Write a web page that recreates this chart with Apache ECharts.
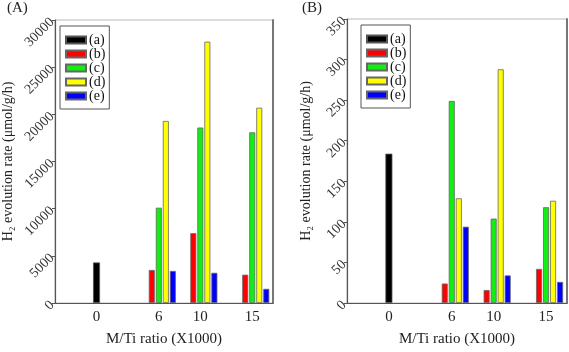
<!DOCTYPE html>
<html>
<head>
<meta charset="utf-8">
<script src="https://cdn.jsdelivr.net/npm/echarts@6/dist/echarts.min.js"></script>
<style>
html, body { margin: 0; padding: 0; background: #fff; }
#main { width: 569px; height: 352px; }
</style>
</head>
<body>
<div id="main"></div>
<script>
// M/Ti ratio (X1000)
const ratios = [0, 6, 10, 15];

// panel (A), umol/g/h
const aA = [4300, null, null, null];
const bA = [null, 3500, 7400, 3000];
const cA = [null, 10100, 18600, 18100];
const dA = [null, 19300, 27700, 20700];
const eA = [null, 3400, 3200, 1500];

// panel (B)
const aB = [184, null, null, null];
const bB = [null, 24, 16, 42];
const cB = [null, 249, 104, 118];
const dB = [null, 129, 288, 126];
const eB = [null, 94, 34, 26];

const names = ['(a)', '(b)', '(c)', '(d)', '(e)'];
const colors = ['#000000', '#ff0000', '#11ee11', '#ffff00', '#0000ff'];

const serif = 'Liberation Serif';

const toPairs = arr => ratios.map((r, i) => [r, arr[i]]);

function panelSeries(p, arrs) {
  const xMain = p * 2, xSolo = p * 2 + 1, yIdx = p * 2;
  const list = [];
  // (a) sits alone at 0, so it goes on its own hidden x axis
  list.push({
    name: names[0], type: 'bar', xAxisIndex: xSolo, yAxisIndex: yIdx,
    barWidth: 7, data: toPairs(arrs[0]),
    itemStyle: { color: colors[0], borderColor: '#555', borderWidth: 0.8 }
  });
  // empty slot where (a) would be in the groups
  list.push({ name: '', type: 'bar', xAxisIndex: xMain, yAxisIndex: yIdx, barWidth: 6, barGap: '17%', data: [] });
  for (let i = 1; i < 5; i++) {
    list.push({
      name: names[i], type: 'bar', xAxisIndex: xMain, yAxisIndex: yIdx,
      barWidth: 6, barGap: '17%', data: toPairs(arrs[i]),
      itemStyle: { color: colors[i], borderColor: '#666', borderWidth: 0.8 }
    });
  }
  return list;
}

function xAxes(g) {
  return [{
    type: 'value', gridIndex: g, min: -4, max: 17,
    name: 'M/Ti ratio (X1000)', nameLocation: 'middle', nameGap: 29,
    nameTextStyle: { fontFamily: serif, fontSize: 15, color: '#222' },
    axisLine: { onZero: false, lineStyle: { color: '#555', width: 1.2 } },
    axisTick: { show: false },
    axisLabel: { customValues: ratios, margin: 7, fontFamily: serif, fontSize: 15, color: '#222' },
    splitLine: { show: false }
  }, {
    type: 'value', gridIndex: g, min: -4, max: 17, show: false, splitLine: { show: false }
  }];
}

function yAxes(g, max, step, gap) {
  return [{
    type: 'value', gridIndex: g, min: 0, max: max, interval: step,
    name: 'H\u2082 evolution rate (\u03bcmol/g/h)', nameLocation: 'middle', nameGap: gap,
    nameTextStyle: { fontFamily: serif, fontSize: 14, color: '#222' },
    axisLine: { show: true, onZero: false, lineStyle: { color: '#555', width: 1.2 } },
    axisTick: { show: true, length: 3, lineStyle: { color: '#555' } },
    axisLabel: { rotate: 45, margin: 3, fontFamily: serif, fontSize: 14, color: '#333', formatter: v => String(v) },
    splitLine: { show: false }
  }, {
    type: 'value', gridIndex: g, min: 0, max: max, position: 'right',
    axisLine: { show: true, onZero: false, lineStyle: { color: '#777', width: 2 } },
    axisTick: { show: false }, axisLabel: { show: false }, splitLine: { show: false }
  }];
}

function legendAt(left, top) {
  return {
    data: names, orient: 'vertical', left: left, top: top,
    icon: 'rect', itemWidth: 20, itemHeight: 7, itemGap: 0,
    padding: [7, 4, 6, 5], borderColor: '#555', borderWidth: 1,
    selectedMode: false,
    textStyle: { fontFamily: serif, fontSize: 14, color: '#111', padding: [0, 0, 0, -2], lineHeight: 13.5 }
  };
}

const chart = echarts.init(document.getElementById('main'));
chart.setOption({
  animation: false,
  title: [
    { text: '(A)', left: 7, top: 1, padding: 0, textStyle: { fontFamily: serif, fontSize: 15, fontWeight: 'normal', color: '#222' } },
    { text: '(B)', left: 302, top: 1, padding: 0, textStyle: { fontFamily: serif, fontSize: 15, fontWeight: 'normal', color: '#222' } }
  ],
  grid: [
    { left: 53, top: 20, width: 220, height: 292, show: true, borderColor: '#bbb', borderWidth: 1 },
    { left: 347, top: 19, width: 220, height: 293, show: true, borderColor: '#bbb', borderWidth: 1 }
  ],
  legend: [legendAt(60, 26), legendAt(361, 25)],
  xAxis: xAxes(0).concat(xAxes(1)),
  yAxis: yAxes(0, 30000, 5000, 40).concat(yAxes(1, 350, 50, 34)),
  series: panelSeries(0, [aA, bA, cA, dA, eA]).concat(panelSeries(1, [aB, bB, cB, dB, eB]))
});
</script>
</body>
</html>
